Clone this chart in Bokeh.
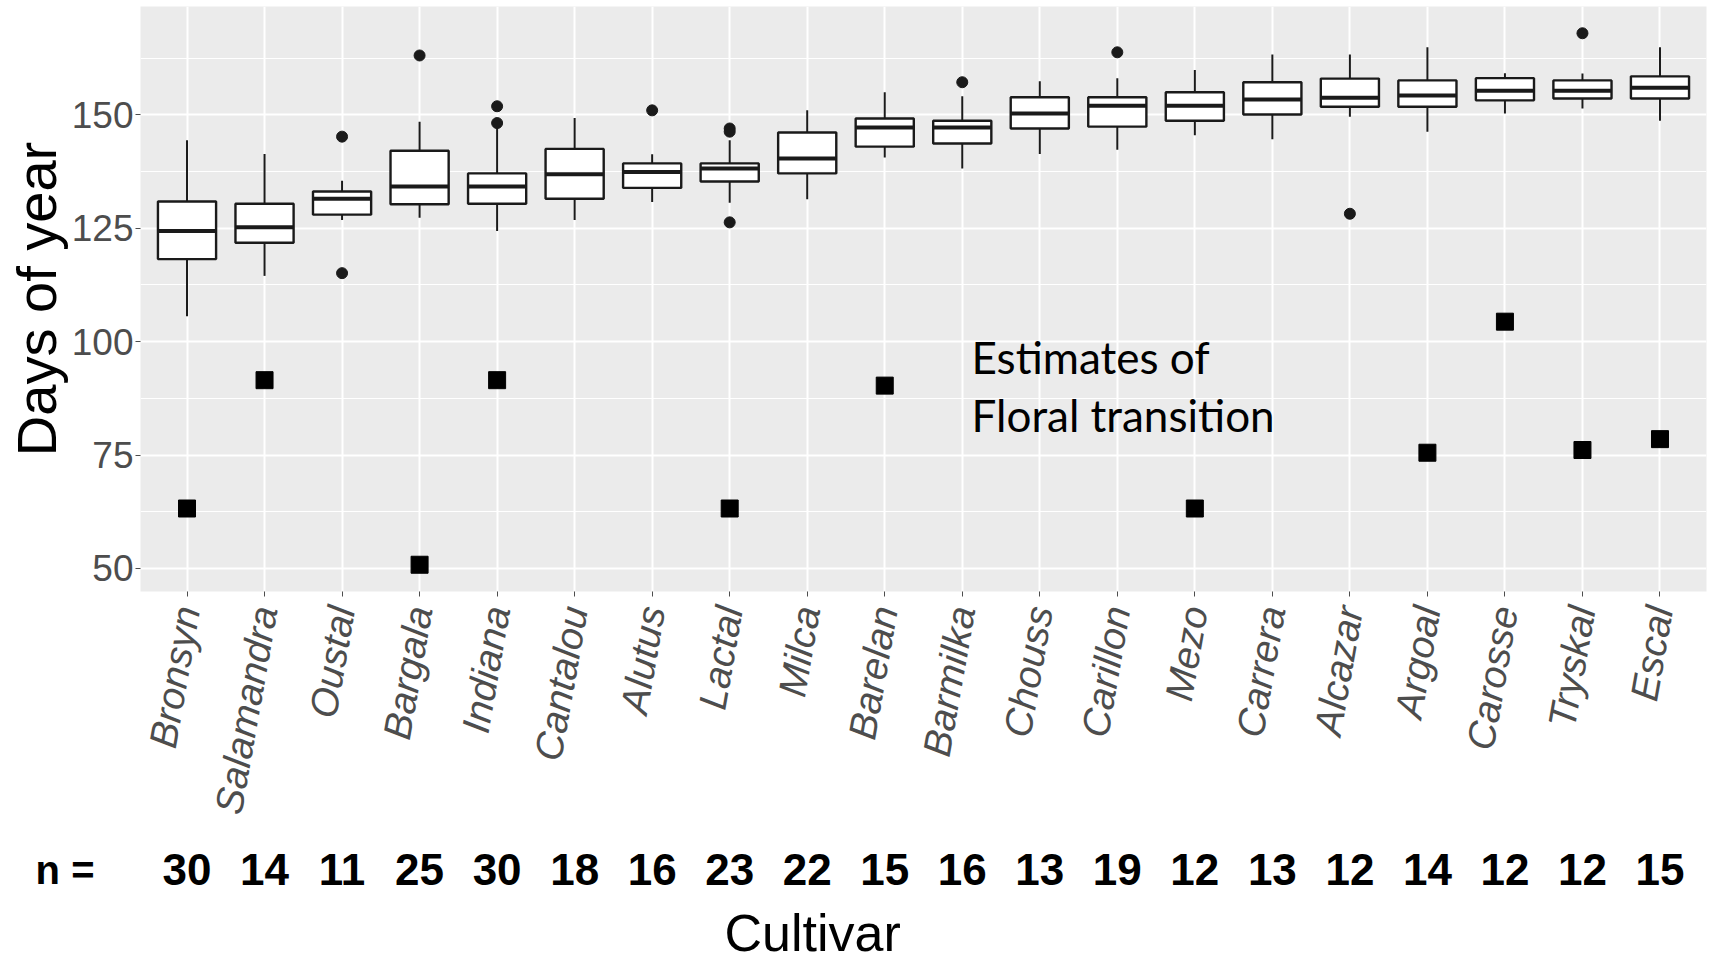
import math
from bokeh.plotting import figure
from bokeh.layouts import column
from bokeh.models import (FactorRange, Range1d, FixedTicker, Label, ColumnDataSource)
from bokeh.core.properties import value
from bokeh.transform import dodge
from bokeh.embed import file_html
from bokeh.resources import INLINE

cultivars = ["Bronsyn", "Salamandra", "Oustal", "Bargala", "Indiana", "Cantalou",
             "Alutus", "Lactal", "Milca", "Barelan", "Barmilka", "Chouss",
             "Carillon", "Mezo", "Carrera", "Alcazar", "Argoal", "Carosse",
             "Tryskal", "Escal"]
n_obs = [30, 14, 11, 25, 30, 18, 16, 23, 22, 15, 16, 13, 19, 12, 13, 12, 14, 12, 12, 15]
whisker_low = [105.6, 114.5, 126.8, 127.3, 124.4, 126.8, 130.8, 130.6, 131.4, 140.6,
               138.2, 141.4, 142.3, 145.5, 144.6, 149.6, 146.3, 150.3, 151.4, 148.7]
q1 = [118.2, 121.8, 128.0, 130.3, 130.4, 131.5, 133.9, 135.3, 137.1, 143.0,
      143.7, 147.0, 147.4, 148.7, 150.1, 151.8, 151.8, 153.2, 153.6, 153.6]
median = [124.4, 125.2, 131.5, 134.2, 134.2, 136.9, 137.4, 138.2, 140.4, 147.2,
          147.2, 150.3, 152.0, 152.0, 153.4, 153.8, 154.3, 155.3, 155.3, 156.0]
q3 = [130.9, 130.4, 133.1, 142.1, 137.1, 142.5, 139.3, 139.3, 146.1, 149.2,
      148.7, 153.9, 153.9, 155.0, 157.2, 158.0, 157.6, 158.1, 157.6, 158.5]
whisker_high = [144.4, 141.4, 135.5, 148.5, 147.4, 149.3, 141.3, 144.4, 151.0, 155.0,
                154.1, 157.4, 158.1, 159.9, 163.3, 163.3, 164.9, 159.2, 159.1, 164.9]
outlier_cultivar = ["Oustal", "Oustal", "Bargala", "Indiana", "Indiana", "Alutus",
                    "Lactal", "Lactal", "Lactal", "Barmilka", "Carillon", "Alcazar", "Tryskal"]
outlier_value = [145.2, 115.1, 163.1, 151.9, 148.2, 151.0, 147.0, 146.3, 126.3,
                 157.2, 163.8, 128.2, 168.0]
transition_cultivar = ["Bronsyn", "Salamandra", "Bargala", "Indiana", "Lactal", "Barelan",
                       "Mezo", "Argoal", "Carosse", "Tryskal", "Escal"]
transition_day = [63.2, 91.5, 50.8, 91.5, 63.2, 90.3, 63.2, 75.5, 104.4, 76.1, 78.5]
y_ticks = [50, 75, 100, 125, 150]
y_minor = [62.5, 87.5, 112.5, 137.5, 162.5]

# ---------------- layout constants ----------------
W = 1731
LEFT, RIGHT, TOP = 140, 25, 6
MAIN_H, FOOT_H = 840, 120
FRAME_BOTTOM = 591
PAD = 0.1
n_cat = len(cultivars)
px_per_unit = (W - LEFT - RIGHT) / (n_cat + 2 * PAD)
N_ROW_Y = 29          # pixels below the top of the footer
TITLE_Y = 92

src = ColumnDataSource(dict(cultivar=cultivars, lo=whisker_low, q1=q1, med=median,
                            q3=q3, hi=whisker_high))

x_range = FactorRange(*cultivars, range_padding=PAD, range_padding_units="absolute")

p = figure(width=W, height=MAIN_H, x_range=x_range,
           y_range=Range1d(44.9, 173.9),
           output_backend="svg", toolbar_location=None,
           min_border_left=LEFT, min_border_right=RIGHT, min_border_top=TOP,
           min_border_bottom=MAIN_H - FRAME_BOTTOM,
           background_fill_color="#EBEBEB", border_fill_color="white",
           outline_line_color=None)

# grids
p.xgrid.grid_line_color = "white"
p.xgrid.grid_line_width = 2
p.ygrid.grid_line_color = "white"
p.ygrid.grid_line_width = 2
p.ygrid.minor_grid_line_color = "white"
p.ygrid.minor_grid_line_width = 1

# y axis
p.yaxis.ticker = FixedTicker(ticks=y_ticks, minor_ticks=y_minor)
p.yaxis.axis_line_color = None
p.yaxis.minor_tick_line_color = None
p.yaxis.major_tick_line_color = "#4D4D4D"
p.yaxis.major_tick_in = 0
p.yaxis.major_tick_out = 5
p.yaxis.major_label_text_font = "Liberation Sans"
p.yaxis.major_label_text_font_size = "37px"
p.yaxis.major_label_text_color = "#4D4D4D"
p.yaxis.major_label_standoff = 2
p.yaxis.axis_label = "Days of year"
p.yaxis.axis_label_text_font = "Liberation Sans"
p.yaxis.axis_label_text_font_size = "56px"
p.yaxis.axis_label_text_font_style = "normal"
p.yaxis.axis_label_text_color = "black"
p.yaxis.axis_label_standoff = 1

# x axis (cultivar names)
p.xaxis.axis_line_color = None
p.xaxis.major_tick_line_color = "#4D4D4D"
p.xaxis.major_tick_in = 0
p.xaxis.major_tick_out = 5
p.xaxis.major_label_orientation = math.radians(80)
p.xaxis.major_label_text_font = "Liberation Sans"
p.xaxis.major_label_text_font_size = "39px"
p.xaxis.major_label_text_font_style = "italic"
p.xaxis.major_label_text_color = "#4D4D4D"
p.xaxis.major_label_standoff = 10

# boxplots
p.segment(x0="cultivar", y0="q3", x1="cultivar", y1="hi", line_color="#1A1A1A",
          line_width=2, source=src)
p.segment(x0="cultivar", y0="q1", x1="cultivar", y1="lo", line_color="#1A1A1A",
          line_width=2, source=src)
p.vbar(x="cultivar", width=0.75, bottom="q1", top="q3", fill_color="white",
       line_color="#1A1A1A", line_width=2.4, source=src)
p.segment(x0=dodge("cultivar", -0.375, range=p.x_range), y0="med",
          x1=dodge("cultivar", 0.375, range=p.x_range), y1="med",
          line_color="#1A1A1A", line_width=4, source=src)
p.scatter(x=outlier_cultivar, y=outlier_value, size=11, color="#1A1A1A")
p.scatter(x=transition_cultivar, y=transition_day, marker="square", size=17, color="black")

p.add_layout(Label(x=10.62, y=102.3, text="Estimates of\nFloral transition",
                   text_font="Lato", text_font_size="44px", text_color="black",
                   text_baseline="top", text_align="left", text_line_height=1.11))

# ---------------- footer: sample sizes and axis title ----------------
foot = figure(width=W, height=FOOT_H, x_range=x_range, y_range=Range1d(FOOT_H, 0),
              output_backend="svg", toolbar_location=None,
              x_axis_location=None, y_axis_location="left",
              min_border_left=LEFT, min_border_right=RIGHT,
              min_border_top=0, min_border_bottom=0, outline_line_color=None,
              background_fill_color="white", border_fill_color="white")
foot.grid.visible = False

# "n =" drawn as the single tick label of the footer's left axis
foot.yaxis.ticker = FixedTicker(ticks=[N_ROW_Y], minor_ticks=[])
foot.yaxis.major_label_overrides = {N_ROW_Y: "n ="}
foot.yaxis.axis_line_color = None
foot.yaxis.major_tick_line_color = None
foot.yaxis.minor_tick_line_color = None
foot.yaxis.major_tick_in = 0
foot.yaxis.major_tick_out = 0
foot.yaxis.major_label_standoff = 46
foot.yaxis.major_label_text_font = "Liberation Sans"
foot.yaxis.major_label_text_font_size = "40px"
foot.yaxis.major_label_text_font_style = "bold"
foot.yaxis.major_label_text_color = "black"

foot.text(x=cultivars, y=[N_ROW_Y] * n_cat, text=[str(n) for n in n_obs],
          text_font=value("Liberation Sans"), text_font_size="44px",
          text_font_style="bold", text_color="black",
          text_align="center", text_baseline="middle")
foot.add_layout(Label(x=(724 - LEFT) / px_per_unit - PAD, y=TITLE_Y, text="Cultivar",
                      text_font="Liberation Sans", text_font_size="52px",
                      text_font_style="normal", text_color="black",
                      text_baseline="middle", text_align="left"))

layout = column(p, foot, spacing=0)
open("out.html", "w").write(file_html(layout, INLINE))
